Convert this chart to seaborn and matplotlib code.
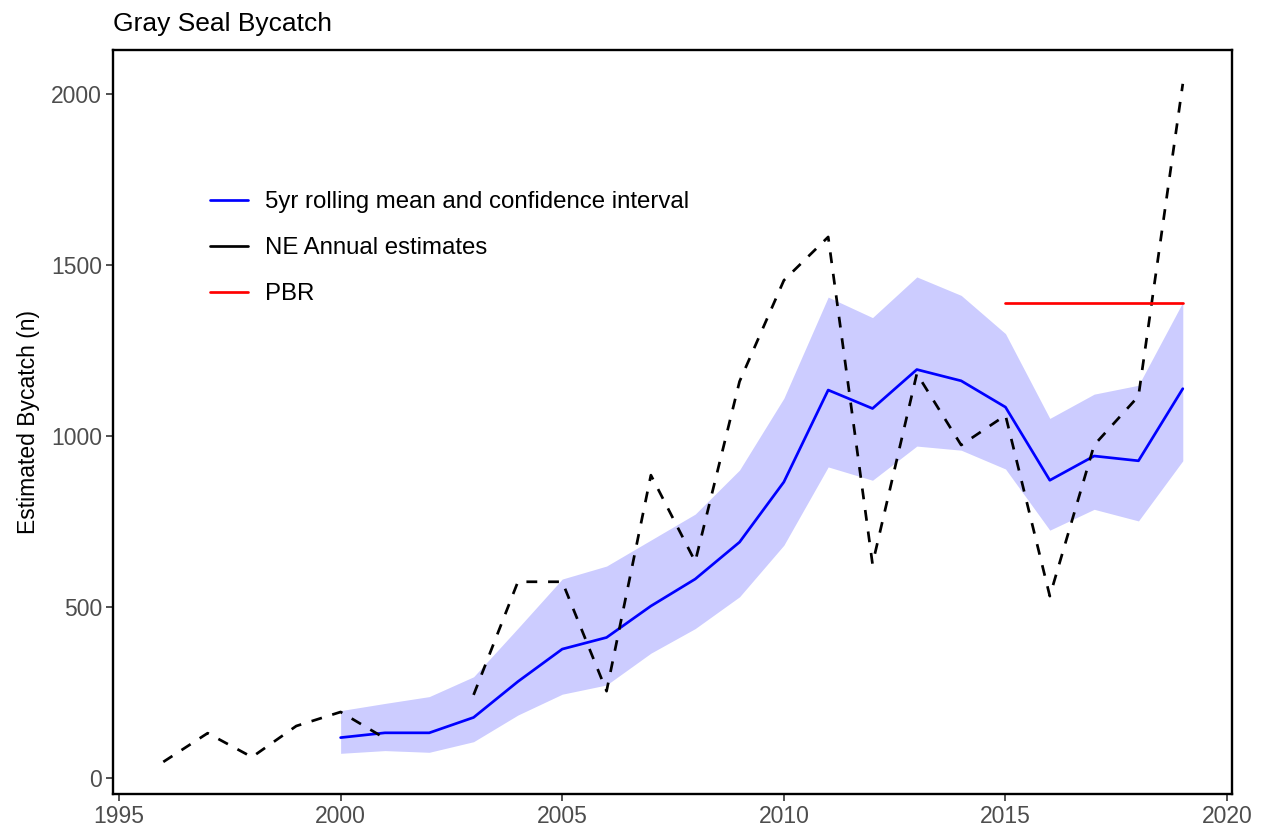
import numpy as np
import pandas as pd
import matplotlib
matplotlib.use("Agg")
import matplotlib.pyplot as plt
import seaborn as sns
from matplotlib.lines import Line2D

# Annual northeast bycatch estimates (2002 has no estimate)
ne_years = list(range(1996, 2020))
ne_estimates = [47, 131, 61, 152, 193, 116, np.nan, 243, 574, 574, 254, 886,
                633, 1160, 1456, 1583, 626, 1183, 974, 1061, 532, 974, 1117, 2031]

# Five-year rolling mean with its confidence band
roll_years = list(range(2000, 2020))
roll_mean = [118, 132, 132, 177, 282, 377, 411, 503, 582, 690,
             866, 1135, 1081, 1195, 1162, 1085, 871, 942, 928, 1139]
roll_upper = [197, 218, 238, 296, 438, 582, 620, 696, 772, 901,
              1111, 1407, 1347, 1466, 1412, 1300, 1052, 1123, 1149, 1392]
roll_lower = [72, 80, 75, 106, 184, 245, 272, 365, 437, 530,
              681, 910, 871, 971, 959, 904, 725, 786, 752, 928]

# Potential biological removal level
pbr_years = [2015, 2019]
pbr_values = [1390, 1390]

x_ticks = [1995, 2000, 2005, 2010, 2015, 2020]
y_ticks = [0, 500, 1000, 1500, 2000]
legend_labels = ["5yr rolling mean and confidence interval",
                 "NE Annual estimates", "PBR"]
legend_colors = ["blue", "black", "red"]

sns.set_theme(style="white")
plt.rcParams["font.family"] = ["Liberation Sans", "DejaVu Sans"]

W, H = 1263, 834
fig = plt.figure(figsize=(W / 100, H / 100), dpi=100)
ax = fig.add_axes([113 / W, 1 - 794 / H, (1232 - 113) / W, (794 - 50) / H])

ne = pd.DataFrame({"year": ne_years, "estimate": ne_estimates})
ne["segment"] = ne["estimate"].isna().cumsum()
ne = ne.dropna()

roll = pd.DataFrame({"year": roll_years, "mean": roll_mean,
                     "lower": roll_lower, "upper": roll_upper})
pbr = pd.DataFrame({"year": pbr_years, "value": pbr_values})

lw = 1.95
ax.fill_between(roll["year"], roll["lower"], roll["upper"],
                color="blue", alpha=0.2, linewidth=0)
sns.lineplot(data=roll, x="year", y="mean", color="blue", lw=lw, ax=ax)
sns.lineplot(data=ne, x="year", y="estimate", units="segment", estimator=None,
             color="black", lw=lw, linestyle=(0, (4, 4)), ax=ax)
sns.lineplot(data=pbr, x="year", y="value", color="red", lw=lw, ax=ax)

ax.set_xlim(1994.865, 2020.11)
ax.set_ylim(-47, 2130)
ax.set_xticks(x_ticks)
ax.set_yticks(y_ticks)

for side in ["left", "right", "top", "bottom"]:
    ax.spines[side].set_visible(True)
    ax.spines[side].set_color("black")
    ax.spines[side].set_linewidth(1.7)

ax.tick_params(axis="both", which="major", bottom=True, left=True,
               direction="out", length=5, width=1.2, color="#333333",
               labelsize=16.5, labelcolor="#4D4D4D", pad=3)

ax.set_xlabel("")
ax.set_ylabel("Estimated Bycatch (n)", fontsize=16.5, color="black", labelpad=8)
ax.set_title("Gray Seal Bycatch", loc="left", fontsize=19, color="black", pad=14)

handles = [Line2D([], [], color=c, lw=lw) for c in legend_colors]
leg = ax.legend(handles, legend_labels, loc="upper left",
                bbox_to_anchor=(210 / W, 1 - 191 / H), bbox_transform=fig.transFigure,
                frameon=False, fontsize=17.3, handlelength=1.6, handletextpad=0.7,
                labelspacing=1.0, borderpad=0, borderaxespad=0)
for t in leg.get_texts():
    t.set_color("black")

fig.savefig("out.png", dpi=100)
